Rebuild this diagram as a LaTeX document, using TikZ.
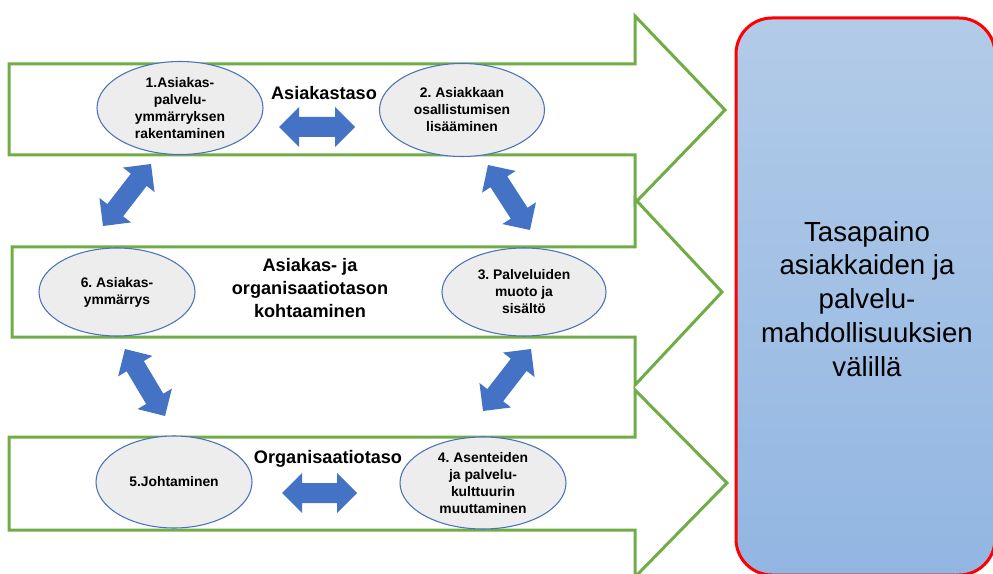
\documentclass[tikz,border=0pt]{standalone}
\usepackage{fontspec}
\setmainfont{Liberation Sans}
\frenchspacing
\usetikzlibrary{calc,shapes.geometric}
\definecolor{grn}{HTML}{70AD47}
\definecolor{blk}{HTML}{4472C4}
\definecolor{efill}{HTML}{EDEDED}
\definecolor{eline}{HTML}{4A72B8}
\definecolor{btop}{RGB}{178,203,232}
\definecolor{bbot}{RGB}{146,182,226}
% block double arrow between two named coordinates
\newcommand\blockarrow[2]{%
  \fill[blk] (#1)
    -- ($(#1)!15pt!(#2)!15pt!90:(#2)$)
    -- ($(#1)!15pt!(#2)!7.5pt!90:(#2)$)
    -- ($(#2)!15pt!(#1)!7.5pt!-90:(#1)$)
    -- ($(#2)!15pt!(#1)!15pt!-90:(#1)$)
    -- (#2)
    -- ($(#2)!15pt!(#1)!15pt!90:(#1)$)
    -- ($(#2)!15pt!(#1)!7.5pt!90:(#1)$)
    -- ($(#1)!15pt!(#2)!7.5pt!-90:(#2)$)
    -- ($(#1)!15pt!(#2)!15pt!-90:(#2)$)
    -- cycle;}
\begin{document}
\begin{tikzpicture}[x=0.75pt,y=-0.75pt,
  bigarrow/.style={draw=grn, fill=white, line width=2.25pt, line join=miter},
  ell/.style={ellipse, draw=eline, fill=efill, line width=0.8pt, inner sep=0pt},
  etext/.style={align=center, font=\fontsize{10.4}{12.75}\selectfont\bfseries},
  lvl/.style={align=center, font=\fontsize{13.6}{16.9}\selectfont\bfseries},
  goal/.style={align=center, font=\fontsize{20.7}{25.4}\selectfont}]
\useasboundingbox (0,0) rectangle (993,574);
\clip (0,0) rectangle (993,574);
% big green arrows
\draw[bigarrow] (9,64) -- (635,64) -- (635,16) -- (725,110) -- (635,203) -- (635,155) -- (9,155) -- cycle;
\draw[bigarrow] (12,247) -- (635,247) -- (635,199) -- (722,292) -- (635,385) -- (635,337) -- (12,337) -- cycle;
\draw[bigarrow] (9,437) -- (635,437) -- (635,390) -- (727,483) -- (635,577) -- (635,530) -- (9,530) -- cycle;
% goal box
\draw[red, line width=2.25pt, rounded corners=27pt, top color=btop, bottom color=bbot]
  (736,18) rectangle (995,575);
\node[goal] (goal) at (867,299) {Tasapaino\\asiakkaiden ja\\palvelu-\\mahdollisuuksien\\välillä};
% ellipses
\node[ell, minimum width=124.5pt, minimum height=69.75pt] (e1) at (180,108) {};
\node[ell, minimum width=123.75pt, minimum height=69.75pt] (e2) at (462,110) {};
\node[ell, minimum width=117pt, minimum height=66pt] (e6) at (117,292) {};
\node[ell, minimum width=123pt, minimum height=66pt] (e3) at (524,292) {};
\node[ell, minimum width=117pt, minimum height=69pt] (e5) at (174,482) {};
\node[ell, minimum width=124.5pt, minimum height=69pt] (e4) at (483,483) {};
\node[etext] (t1) at (e1) {1.Asiakas-\\palvelu-\\ymmärryksen\\rakentaminen};
\node[etext] (t2) at (e2) {2. Asiakkaan\\osallistumisen\\lisääminen};
\node[etext] (t6) at (e6) {6. Asiakas-\\ymmärrys};
\node[etext] (t3) at (e3) {3. Palveluiden\\muoto ja\\sisältö};
\node[etext] (t5) at (e5) {5.Johtaminen};
\node[etext] (t4) at (e4) {4. Asenteiden\\ja palvelu-\\kulttuurin\\muuttaminen};
% level labels
\node[lvl] (l1) at (324,93) {Asiakastaso};
\node[lvl] (l2) at (310,288) {Asiakas- ja\\organisaatiotason\\kohtaaminen};
\node[lvl] (l3) at (328,459) {Organisaatiotaso};
% blue double arrows
\coordinate (ha1) at (279,127); \coordinate (ha2) at (355,127);
\coordinate (hb1) at (282,493); \coordinate (hb2) at (357,493);
\coordinate (da1) at (103,226); \coordinate (da2) at (151,164);
\coordinate (db1) at (488,165); \coordinate (db2) at (530,230);
\coordinate (dc1) at (125,349); \coordinate (dc2) at (165,416);
\coordinate (dd1) at (483,411); \coordinate (dd2) at (531,349);
\blockarrow{ha1}{ha2}
\blockarrow{hb1}{hb2}
\blockarrow{da1}{da2}
\blockarrow{db1}{db2}
\blockarrow{dc1}{dc2}
\blockarrow{dd1}{dd2}
\end{tikzpicture}
\end{document}
